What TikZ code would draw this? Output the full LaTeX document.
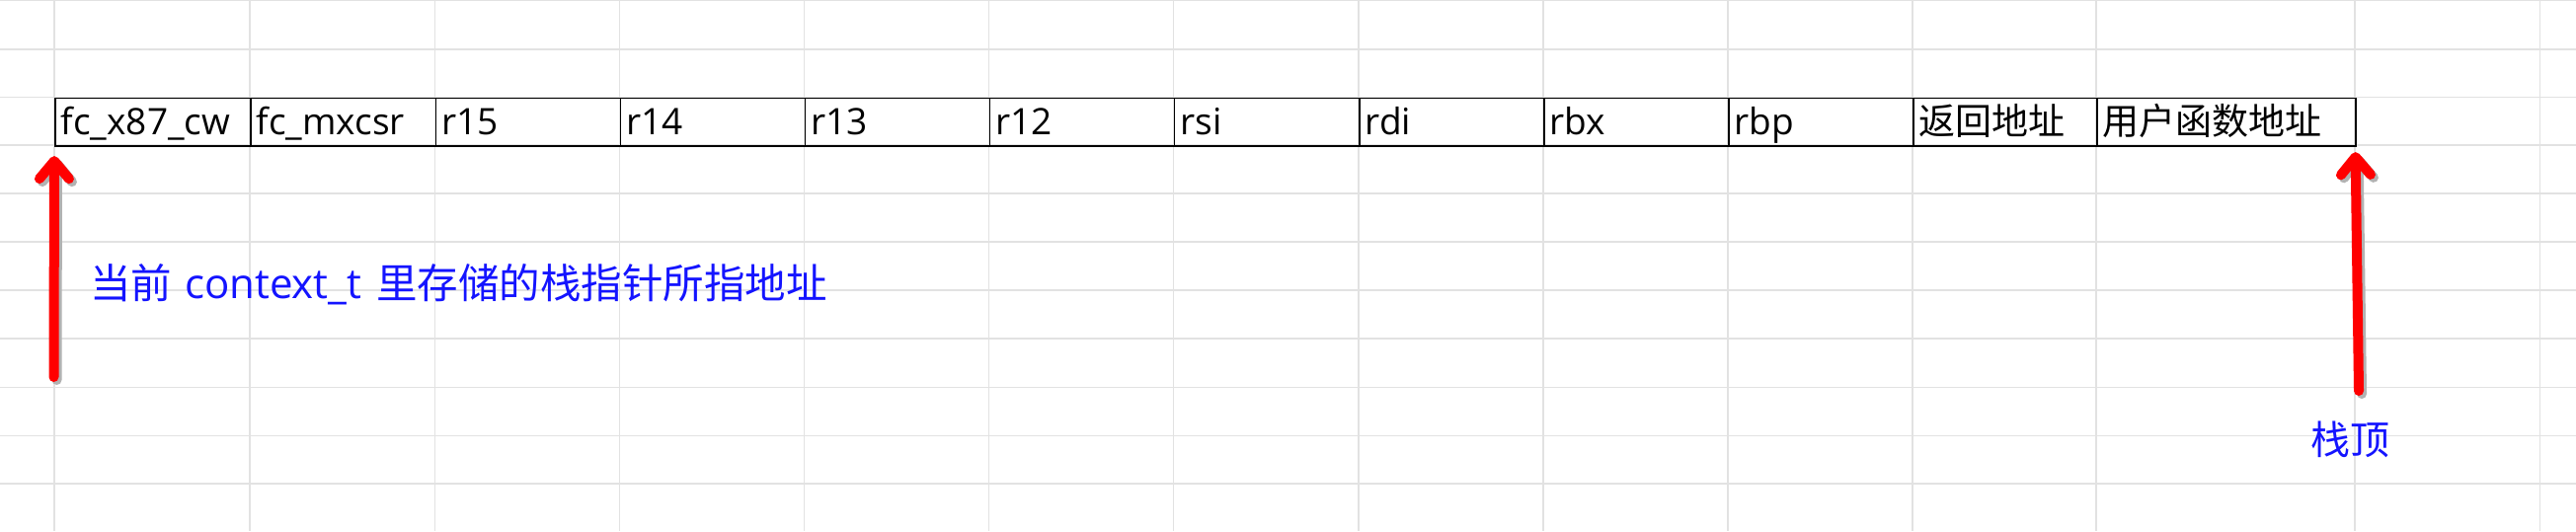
\documentclass[tikz,border=0pt]{standalone}
\usepackage{fontspec}
\setmainfont{Open Sans}
\newfontfamily\cjk{Noto Sans CJK SC}
\usetikzlibrary{arrows.meta,calc}
\definecolor{gridgray}{RGB}{226,226,226}
\definecolor{textblue}{RGB}{20,20,255}
\begin{document}
\begin{tikzpicture}[x=1pt,y=-1pt,
  gridline/.style={gridgray,line width=1.5pt},
  cell/.style={draw=black,line width=1.6pt,anchor=north west,inner xsep=6pt,inner ysep=0pt,
    minimum height=48.5pt,text height=31pt,text depth=5pt,align=left,
    font=\fontsize{37pt}{44pt}\selectfont},
  note/.style={anchor=base west,inner sep=0pt,text=textblue,font=\cjk\fontsize{41.5pt}{48pt}\selectfont},
  redarrow/.style={red,line width=10pt,line cap=round,-{Straight Barb[round,length=18pt,width=30pt]}},
  shadowarrow/.style={black!30,line width=10pt,line cap=round,-{Straight Barb[round,length=18pt,width=30pt]}}
]
\fill[white] (0,0) rectangle (2609,538);
\useasboundingbox (0,0) rectangle (2609,538);
% spreadsheet grid
\foreach \gx in {55,253,440.5,627.5,814.5,1001.6,1188.5,1376,1563,1750,1937,2123,2385,2572.5}
  \draw[gridline] (\gx,0) -- (\gx,538);
\foreach \gy in {0.7,49.8,98.5,147,196,245,294,343,392.3,441.3,490}
  \draw[gridline] (0,\gy) -- (2609,\gy);
% table cells
\foreach \n/\a/\b/\t in {1/55/253/fc\_x87\_cw,2/253/440.5/fc\_mxcsr,3/440.5/627.5/r15,
    4/627.5/814.5/r14,5/814.5/1001.6/r13,6/1001.6/1188.5/r12,7/1188.5/1376/rsi,
    8/1376/1563/rdi,9/1563/1750/rbx,10/1750/1937/rbp,11/1937/2123/{\cjk 返回地址},
    12/2123/2385/{\cjk 用户函数地址}}{
  \pgfmathsetmacro\cw{\b-\a}
  \pgfmathsetmacro\tw{\b-\a-12}
  \node[cell,minimum width=\cw pt,text width=\tw pt] (c\n) at (\a,98.5) {\t};
}
% labels
\node[note] (lbl1) at (91,302) {当前\hspace{13pt}{\rmfamily\fontsize{42pt}{48pt}\selectfont context\_t}\hspace{15pt}里存储的栈指针所指地址};
\node[note,font=\cjk\fontsize{40pt}{48pt}\selectfont] (lbl2) at (2340,460) {栈顶};
% arrows
\coordinate (ltail) at (54.5,382);
\coordinate (ltip) at ($(c1.south west)+(0,9.5)$);
\coordinate (rtail) at (2389,396);
\coordinate (rtip) at ($(c12.south east)+(-1,5.5)$);
\draw[shadowarrow] ([xshift=3pt,yshift=-3pt]ltail) -- ([xshift=3pt,yshift=-3pt]ltip);
\draw[shadowarrow] ([xshift=3pt,yshift=-3pt]rtail) -- ([xshift=3pt,yshift=-3pt]rtip);
\draw[redarrow] (ltail) -- (ltip);
\draw[redarrow] (rtail) -- (rtip);
\end{tikzpicture}
\end{document}
